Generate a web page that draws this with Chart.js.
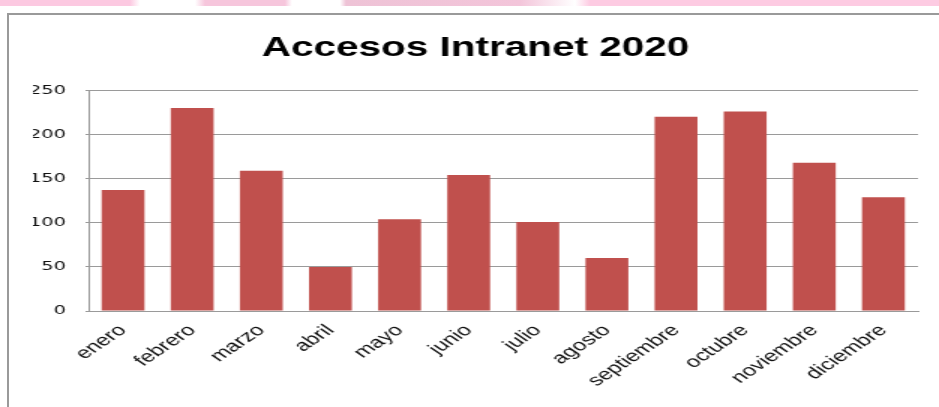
<!DOCTYPE html>
<html>
<head>
<meta charset="utf-8">
<script src="https://cdn.jsdelivr.net/npm/chart.js@4.4.1/dist/chart.umd.min.js"></script>
<style>
  html, body { margin: 0; padding: 0; background: #fff; overflow: hidden; }
  body { width: 939px; height: 407px; position: relative; }
  .band {
    position: absolute; left: 0; top: 0; width: 939px; height: 6px;
    background: linear-gradient(90deg, #fcc9e1 0, #fcc9e1 130px, #fff 140px, #fff 195px,
      #f6c6dc 205px, #f6c6dc 285px, #fff 292px, #fff 340px, #eec3d6 346px, #f3c5da 520px,
      #fff 575px, #fdcbe2 590px, #fdcbe2 939px);
  }
  .frame {
    position: absolute; left: 7px; top: 13px; width: 940px; height: 400px;
    border-left: 2px solid #9a9a9a; border-top: 2px solid #9a9a9a;
  }
  #wrap {
    position: absolute; left: 9px; top: 15px; width: 621px; height: 392px;
    transform: scaleX(1.5); transform-origin: 0 0;
  }
</style>
</head>
<body>
<div class="band"></div>
<div class="frame"></div>
<div id="wrap"><canvas id="chart" width="621" height="392"></canvas></div>
<script>
const months = ["enero", "febrero", "marzo", "abril", "mayo", "junio", "julio",
  "agosto", "septiembre", "octubre", "noviembre", "diciembre"];
const accesos = [137, 230, 159, 50, 104, 154, 101, 60, 220, 226, 168, 129];
const yTicks = [0, 50, 100, 150, 200, 250];

const gridGrey = "#9a9a9a";

new Chart(document.getElementById("chart"), {
  type: "bar",
  data: {
    labels: months,
    datasets: [
      {
        label: "Accesos",
        data: accesos,
        backgroundColor: "#c0504d",
        barPercentage: 0.62,
        categoryPercentage: 1.0,
      },
    ],
  },
  options: {
    responsive: false,
    animation: false,
    devicePixelRatio: 1,
    // left/right padding kept almost equal so the title stays centred on the frame
    layout: { padding: { left: 16, right: 15, top: 0, bottom: 0 } },
    plugins: {
      legend: { display: false },
      tooltip: { enabled: false },
      title: {
        display: true,
        text: "Accesos Intranet 2020",
        color: "#000",
        font: { family: "Liberation Sans", size: 27, weight: "bold", lineHeight: 1.2 },
        padding: { top: 17, bottom: 26 },
      },
    },
    scales: {
      x: {
        grid: { display: false },
        border: { display: true, color: gridGrey, width: 1 },
        ticks: {
          color: "#111",
          font: { family: "Liberation Sans", size: 16 },
          minRotation: 45,
          maxRotation: 45,
          padding: 2,
        },
        afterFit: (scale) => { scale.height = 96; },
      },
      y: {
        min: 0,
        max: 250,
        afterBuildTicks: (scale) => { scale.ticks = yTicks.map((v) => ({ value: v })); },
        grid: { color: gridGrey, lineWidth: 1, tickLength: 2 },
        border: { display: true, color: gridGrey, width: 1 },
        ticks: {
          color: "#111",
          font: { family: "DejaVu Sans", size: 13 },
          padding: 13,
        },
        afterFit: (scale) => { scale.width = 37; },
      },
    },
  },
});
</script>
</body>
</html>
